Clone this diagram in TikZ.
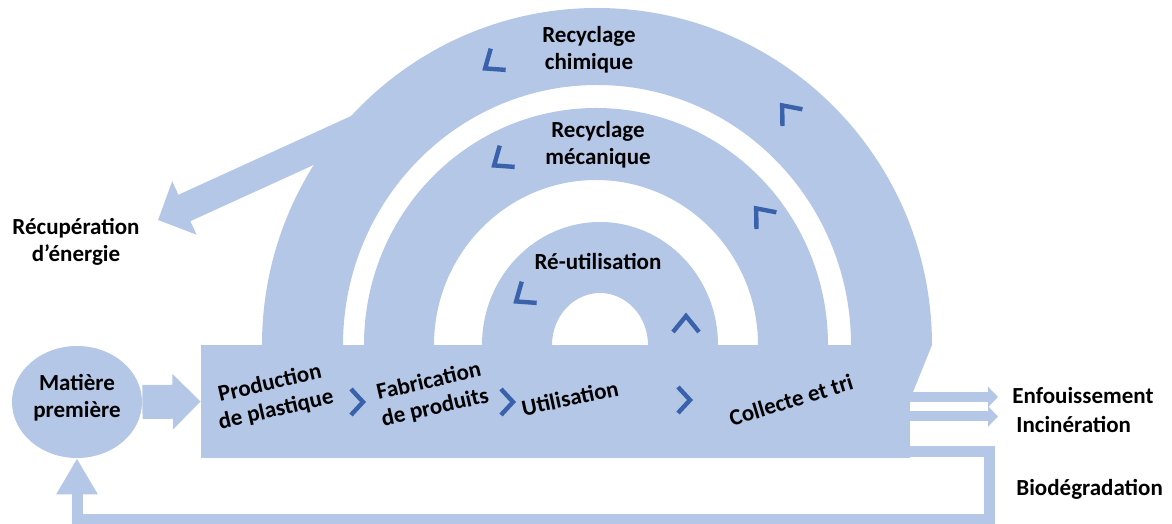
\documentclass[tikz,border=0pt]{standalone}
\usepackage{fontspec}
\setmainfont{Carlito}
\usetikzlibrary{arrows.meta,shapes.geometric}
\definecolor{paleblue}{HTML}{B4C7E7}
\definecolor{chevblue}{HTML}{3A62AB}

\begin{document}
\begin{tikzpicture}[x=0.5pt, y=0.5pt,
    font=\fontsize{11.5}{13.5}\selectfont\bfseries,
    txt/.style={align=center, inner sep=0pt},
    block/.style={fill=paleblue, inner sep=0pt},
    chevron/.style={draw=chevblue, line width=2.2pt, miter limit=10},
    fatarrow/.style={draw=paleblue, line width=17pt, -{Triangle[width=27pt, length=14pt]}},
    energyarrow/.style={draw=paleblue, line width=14.5pt, -{Triangle[width=28.5pt, length=14.5pt]}},
    outarrow/.style={draw=paleblue, line width=5pt, -{Triangle[width=10pt, length=5pt]}},
    looparrow/.style={draw=paleblue, line width=5.5pt, line join=miter, -{Triangle[width=19.5pt, length=18pt]}}]

    \useasboundingbox (0,0) rectangle (1172,524);

    % rings
    \fill[paleblue] (262,179) arc[start angle=180, end angle=0, x radius=335, y radius=337]
        -- (851,179) arc[start angle=0, end angle=180, x radius=254, y radius=260] -- cycle;
    \fill[paleblue] (880,179) -- (932,179) -- (913,132) -- (880,132) -- cycle;
    \fill[paleblue] (364,179) arc[start angle=180, end angle=0, x radius=232, y radius=237]
        -- (758,179) arc[start angle=0, end angle=180, x radius=162, y radius=165] -- cycle;
    \fill[paleblue] (482,179) arc[start angle=180, end angle=0, x radius=118, y radius=123]
        -- (648,179) arc[start angle=0, end angle=180, x radius=48, y radius=52] -- cycle;

    % energy recovery
    \coordinate (ringjoin) at (362,397);
    \coordinate (energytip) at (158,304);
    \draw[energyarrow] (ringjoin) -- (energytip);
    \node (energy) [txt] at (76,282) {Récupération\\d’énergie};

    % main chain
    \node (chain) [block, rectangle, minimum width=354.5pt, minimum height=56.5pt] at (555.5,122.5) {};
    \node (mat) [block, ellipse, minimum width=65pt, minimum height=56pt] at (77,122) {};
    \node (mattext) [txt] at (77,126) {Matière\\première};
    \draw[fatarrow] (mat.east) -- (chain.west);

    \node (production) [txt, rotate=13] at (273,127) {Production\\de plastique};
    \node (fabrication) [txt, rotate=13] at (432,129) {Fabrication\\de produits};
    \node (utilisation) [txt, rotate=12] at (570,126) {Utilisation};
    \node (collecte) [txt, rotate=17] at (791,124) {Collecte et tri};

    \node (chimique) [txt] at (589,474) {Recyclage\\chimique};
    \node (mecanique) [txt] at (598,379) {Recyclage\\mécanique};
    \node (reutil) [txt] at (598,262) {Ré-utilisation};

    % chevrons
    \draw[chevron, shift={(357,122)}] (-6,13) -- (6,0) -- (-6,-13);
    \draw[chevron, shift={(507,122)}] (-6,13) -- (6,0) -- (-6,-13);
    \draw[chevron, shift={(684,124)}] (-6,13) -- (6,0) -- (-6,-13);
    \draw[chevron, shift={(490,459)}, rotate=215] (-10,13) -- (6,0) -- (-10,-13);
    \draw[chevron, shift={(786,414)}, rotate=130] (-10,13) -- (6,0) -- (-10,-13);
    \draw[chevron, shift={(499,362)}, rotate=215] (-10,13) -- (6,0) -- (-10,-13);
    \draw[chevron, shift={(760,311)}, rotate=130] (-10,13) -- (6,0) -- (-10,-13);
    \draw[chevron, shift={(521,226)}, rotate=215] (-10,13) -- (6,0) -- (-10,-13);
    \draw[chevron, shift={(686,202)}, rotate=90] (-10,13) -- (6,0) -- (-10,-13);

    % end of life
    \node (enfouis) [txt, anchor=west] at (1012,128) {Enfouissement};
    \node (incin) [txt, anchor=west] at (1016,99) {Incinération};
    \node (biodeg) [txt, anchor=west] at (1016,35) {Biodégradation};
    \coordinate (enftip) at (998,127);
    \coordinate (inctip) at (998,107.5);
    \draw[outarrow] (chain.east |- enftip) -- (enftip);
    \draw[outarrow] (chain.east |- inctip) -- (inctip);

    \coordinate (loopcorner) at (989,72);
    \coordinate (loopbottom) at (989,4.5);
    \draw[looparrow] (chain.east |- loopcorner) -- (loopcorner) -- (loopbottom)
        -- (mat |- loopbottom) -- (mat.south);
\end{tikzpicture}
\end{document}
